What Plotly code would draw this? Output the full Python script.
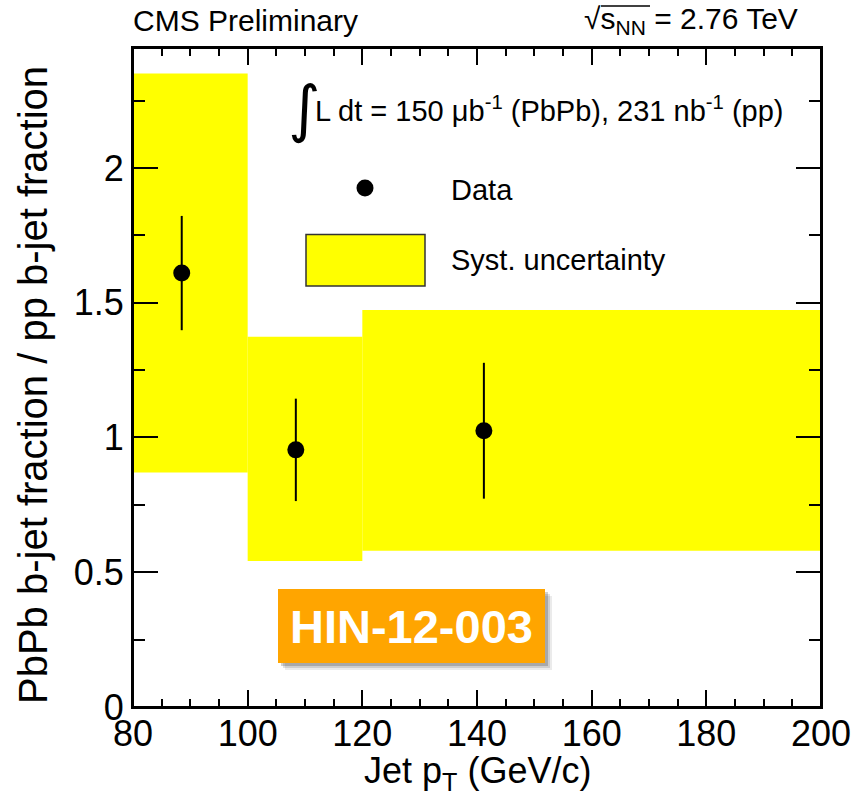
import plotly.graph_objects as go

# ---- data ----
bin_edges = [80, 100, 120, 200]
syst_low = [0.87, 0.542, 0.58]
syst_high = [2.35, 1.374, 1.473]

data_x = [88.5, 108.4, 141.2]
data_y = [1.61, 0.954, 1.025]
data_err = [0.212, 0.19, 0.252]

x_ticks = [80, 100, 120, 140, 160, 180, 200]
y_ticks = [0, 0.5, 1, 1.5, 2]
x_minor_step = 5
y_minor_step = 0.25

FONT = "Liberation Sans, Arial, Helvetica, sans-serif"

# plot-area geometry in pixels (for paper-coordinate decorations)
L, R, T, B = 133, 821, 48, 707
W, H = R - L, B - T


def px(x):
    return (x - L) / W


def py(y):
    return (B - y) / H


centers = [(a + b) / 2 for a, b in zip(bin_edges[:-1], bin_edges[1:])]
widths = [b - a for a, b in zip(bin_edges[:-1], bin_edges[1:])]
heights = [h - l for h, l in zip(syst_high, syst_low)]
x_range = [x_ticks[0], x_ticks[-1]]
y_range = [0, 2.445]

fig = go.Figure()
fig.add_trace(go.Bar(
    x=centers, y=heights, base=syst_low, width=widths,
    marker=dict(color="#FFFF00", line=dict(width=0)),
    showlegend=False, hoverinfo="skip",
))
fig.add_trace(go.Scatter(
    x=data_x, y=data_y, mode="markers",
    marker=dict(color="black", size=17, symbol="circle"),
    error_y=dict(type="data", array=data_err, visible=True,
                 color="black", thickness=2, width=0),
    showlegend=False,
))
# empty trace that creates the overlay axes carrying the minor ticks
fig.add_trace(go.Scatter(x=[None], y=[None], xaxis="x2", yaxis="y2",
                         mode="markers", showlegend=False, hoverinfo="skip"))

fig.update_layout(
    xaxis=dict(range=x_range, tickmode="linear", tick0=x_ticks[0],
               dtick=x_ticks[1] - x_ticks[0], ticks="inside", ticklen=17,
               tickwidth=2, tickcolor="black", showline=True, linecolor="black",
               linewidth=2, mirror="ticks", showgrid=False, zeroline=False,
               ticklabelstandoff=-6, tickfont=dict(size=36)),
    yaxis=dict(range=y_range, tickmode="linear", tick0=y_ticks[0],
               dtick=y_ticks[1] - y_ticks[0], ticks="inside", ticklen=25,
               tickwidth=2, tickcolor="black", showline=True, linecolor="black",
               linewidth=2, mirror="ticks", showgrid=False, zeroline=False,
               tickfont=dict(size=36)),
    xaxis2=dict(overlaying="x", anchor="y2", side="bottom", range=x_range,
                tickmode="linear", tick0=x_ticks[0], dtick=x_minor_step,
                ticks="inside", ticklen=8, tickwidth=2, tickcolor="black",
                showline=True, linecolor="black", linewidth=2, mirror="ticks",
                showticklabels=False, showgrid=False, zeroline=False),
    yaxis2=dict(overlaying="y", anchor="x2", side="left", range=y_range,
                tickmode="linear", tick0=y_ticks[0], dtick=y_minor_step,
                ticks="inside", ticklen=12, tickwidth=2, tickcolor="black",
                showline=True, linecolor="black", linewidth=2, mirror="ticks",
                showticklabels=False, showgrid=False, zeroline=False),
)

ann = []
ann.append(dict(text="CMS Preliminary", x=px(131), y=py(20), xref="paper", yref="paper",
                xanchor="left", yanchor="middle", showarrow=False,
                font=dict(family=FONT, size=30, color="black")))
ann.append(dict(text="√s<sub>NN</sub> = 2.76 TeV", x=px(800), y=py(20), xref="paper", yref="paper",
                xanchor="right", yanchor="middle", showarrow=False,
                font=dict(family=FONT, size=30, color="black")))
ann.append(dict(text="∫", x=px(304), y=py(108), xref="paper", yref="paper",
                xanchor="center", yanchor="middle", showarrow=False,
                font=dict(family="DejaVu Sans, sans-serif", size=62, color="black")))
ann.append(dict(text="L dt = 150 μb<sup>-1</sup> (PbPb), 231 nb<sup>-1</sup> (pp)",
                x=px(313), y=py(109), xref="paper", yref="paper",
                xanchor="left", yanchor="middle", showarrow=False,
                font=dict(family=FONT, size=29, color="black")))
ann.append(dict(text="Data", x=px(449), y=py(190), xref="paper", yref="paper",
                xanchor="left", yanchor="middle", showarrow=False,
                font=dict(family=FONT, size=29, color="black")))
ann.append(dict(text="Syst. uncertainty", x=px(449), y=py(260), xref="paper", yref="paper",
                xanchor="left", yanchor="middle", showarrow=False,
                font=dict(family=FONT, size=29, color="black")))
ann.append(dict(text="<b>HIN-12-003</b>", x=px(411.5), y=py(626), xref="paper", yref="paper",
                xanchor="center", yanchor="middle", showarrow=False,
                font=dict(family=FONT, size=47, color="white")))
ann.append(dict(text="PbPb b-jet fraction / pp b-jet fraction", x=px(33), y=py(385),
                xref="paper", yref="paper", textangle=-90,
                xanchor="center", yanchor="middle", showarrow=False,
                font=dict(family=FONT, size=40, color="black")))
ann.append(dict(text="Jet p<sub>T</sub> (GeV/c)", x=px(477), y=py(773),
                xref="paper", yref="paper",
                xanchor="center", yanchor="middle", showarrow=False,
                font=dict(family=FONT, size=36, color="black")))

shapes = []
# plot frame
shapes.append(dict(type="rect", xref="paper", yref="paper", x0=0, x1=1, y0=0, y1=1,
                   line=dict(color="black", width=2), layer="above"))
# overline of the square root
shapes.append(dict(type="line", xref="paper", yref="paper",
                   x0=px(601), x1=px(650), y0=py(6), y1=py(6),
                   line=dict(color="black", width=1.5)))
# legend marker and box
shapes.append(dict(type="circle", xref="paper", yref="paper",
                   x0=px(356.5), x1=px(373.5), y0=py(196.5), y1=py(179.5),
                   fillcolor="black", line=dict(width=0)))
shapes.append(dict(type="rect", xref="paper", yref="paper",
                   x0=px(306), x1=px(425), y0=py(286), y1=py(234.5),
                   fillcolor="#FFFF00", line=dict(color="#333333", width=1.5)))
# HIN badge shadow + box
for off, op in [(7, 0.08), (5, 0.12), (3, 0.18)]:
    shapes.append(dict(type="rect", xref="paper", yref="paper",
                       x0=px(278 + off), x1=px(545 + off), y0=py(663 + off), y1=py(589 + off),
                       fillcolor=f"rgba(0,0,0,{op})", line=dict(width=0)))
shapes.append(dict(type="rect", xref="paper", yref="paper",
                   x0=px(278), x1=px(545), y0=py(663), y1=py(589),
                   fillcolor="#FFA500", line=dict(width=0)))

fig.update_layout(
    width=856, height=798, autosize=False,
    margin=dict(l=L, r=856 - R, t=T, b=798 - B, autoexpand=False),
    paper_bgcolor="white", plot_bgcolor="white",
    annotations=ann, shapes=shapes, showlegend=False,
    font=dict(family=FONT, color="black"),
)

fig.write_html("out.html")
